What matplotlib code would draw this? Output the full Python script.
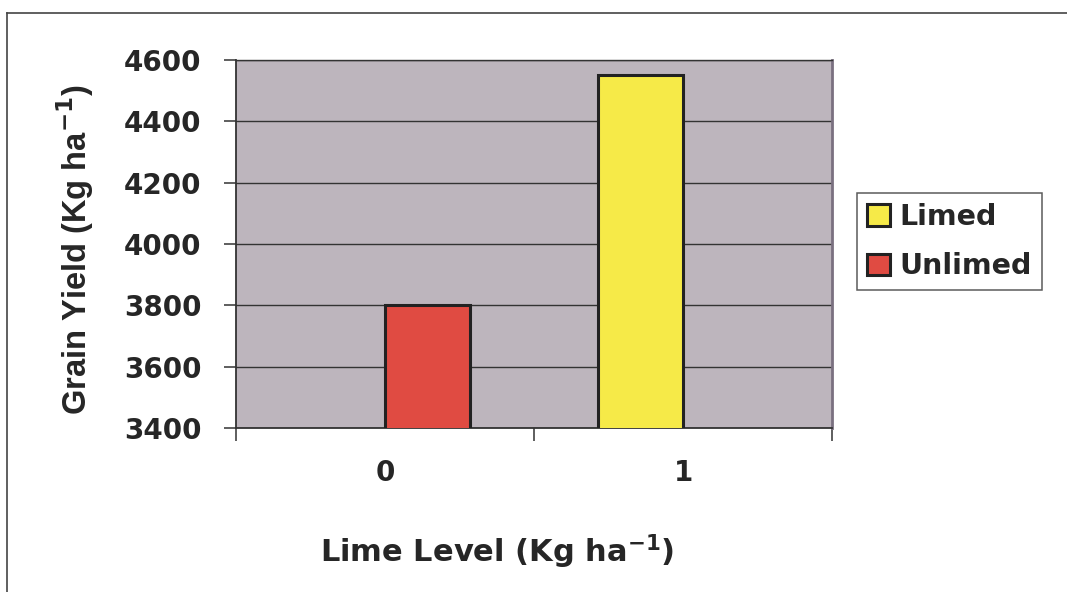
import numpy as np
import matplotlib
matplotlib.use("Agg")
import matplotlib.pyplot as plt
from matplotlib.lines import Line2D

plt.rcParams['font.family'] = ['DejaVu Sans']
plt.rcParams['font.weight'] = 'bold'
plt.rcParams['mathtext.fontset'] = 'custom'
plt.rcParams['mathtext.rm'] = 'DejaVu Sans:bold'
plt.rcParams['mathtext.bf'] = 'DejaVu Sans:bold'

# data
lime_levels = ['0', '1']
limed = [np.nan, 4550]
unlimed = [3800, np.nan]
y_ticks = [3400, 3600, 3800, 4000, 4200, 4400, 4600]

fig = plt.figure(figsize=(10.67, 5.92), dpi=100)
ax = fig.add_axes([0.2212, 0.277, 0.5586, 0.6216])
ax.set_facecolor('#bdb5bd')

x = np.arange(len(lime_levels))
w = 0.285
ax.bar(x - w / 2, limed, w, color='#f6ea48', edgecolor='#222222', linewidth=2.2,
       label='Limed', zorder=3)
ax.bar(x + w / 2, unlimed, w, color='#e04b42', edgecolor='#222222', linewidth=2.2,
       label='Unlimed', zorder=3)

ax.set_ylim(3400, 4600)
ax.set_xlim(-0.5, 1.5)
ax.set_yticks(y_ticks)
ax.yaxis.grid(True, color='#333333', linewidth=1.0, zorder=1)
ax.set_axisbelow(True)

ax.set_xticks(x)
ax.set_xticklabels(lime_levels)
ax.set_xticks([-0.5, 0.5, 1.5], minor=True)
ax.tick_params(axis='x', which='major', length=0, pad=22, labelsize=20)
ax.tick_params(axis='x', which='minor', length=9, width=1.1, color='#333333')
ax.tick_params(axis='y', length=9, width=1.1, color='#333333', pad=16, labelsize=20)
for lab in ax.get_xticklabels() + ax.get_yticklabels():
    lab.set_fontweight('bold')
    lab.set_color('#262626')

for side in ['left', 'bottom']:
    ax.spines[side].set_color('#333333')
    ax.spines[side].set_linewidth(1.3)
ax.spines['top'].set_color('#333333')
ax.spines['top'].set_linewidth(1.0)
ax.spines['right'].set_color('#7a7080')
ax.spines['right'].set_linewidth(2)

fig.text(75 / 1067, 1 - 250 / 592, r'Grain Yield (Kg ha$^{\mathrm{-1}}$)',
         rotation=90, ha='center', va='center', fontsize=23.5, fontweight='bold',
         color='#262626', family='Liberation Sans')
fig.text(497 / 1067, 1 - 552 / 592, r'Lime Level (Kg ha$^{\mathrm{-1}}$)',
         ha='center', va='center', fontsize=22, fontweight='bold', color='#262626')

leg = fig.legend(loc='upper left', bbox_to_anchor=(857 / 1067, 1 - 193 / 592),
                 fancybox=False, frameon=True, edgecolor='#333333',
                 prop={'size': 20.5, 'weight': 'bold'}, handlelength=0.8,
                 handleheight=0.8, handletextpad=0.35, borderpad=0.35,
                 labelspacing=0.75, borderaxespad=0)
leg.get_frame().set_linewidth(1.1)
for t in leg.get_texts():
    t.set_color('#262626')

# outer chart frame
fig.add_artist(Line2D([7 / 1067, 1.0], [1 - 13 / 592, 1 - 13 / 592],
                      transform=fig.transFigure, color='#444444', linewidth=1.2))
fig.add_artist(Line2D([7 / 1067, 7 / 1067], [0, 1 - 13 / 592],
                      transform=fig.transFigure, color='#444444', linewidth=1.2))

fig.savefig('out.png', dpi=100)
